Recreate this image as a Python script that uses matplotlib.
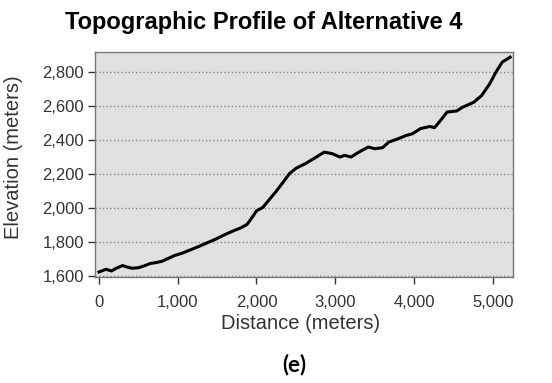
"""Topographic profile of alternative 4 (elevation vs distance)."""

import matplotlib.pyplot as plt
from matplotlib.ticker import FuncFormatter

# values
distance = [0, 40, 90, 160, 210, 300, 350, 420, 500, 580,
            650, 720, 800, 880, 960, 1050, 1160, 1260, 1370, 1480,
            1580, 1680, 1800, 1880, 1950, 2000, 2080, 2160, 2250, 2340,
            2420, 2500, 2620, 2760, 2860, 2960, 3060, 3120, 3200, 3300,
            3420, 3500, 3600, 3680, 3800, 3900, 3980, 4080, 4200, 4260,
            4320, 4420, 4540, 4620, 4760, 4860, 4960, 5040, 5120, 5220]
elevation = [1625, 1632, 1641, 1631, 1645, 1663, 1655, 1647, 1650, 1662,
             1675, 1680, 1688, 1705, 1722, 1735, 1755, 1774, 1796, 1818,
             1841, 1862, 1885, 1905, 1950, 1985, 2005, 2050, 2100, 2155,
             2205, 2235, 2263, 2302, 2331, 2322, 2302, 2312, 2302, 2331,
             2361, 2351, 2357, 2390, 2410, 2429, 2439, 2469, 2482, 2475,
             2508, 2567, 2573, 2596, 2625, 2665, 2733, 2802, 2861, 2890]
x_ticks = [0, 1000, 2000, 3000, 4000, 5000]
y_ticks = [1600, 1800, 2000, 2200, 2400, 2600, 2800]

plt.rcParams["font.family"] = ["Liberation Sans", "DejaVu Sans"]

fig = plt.figure(figsize=(5.52, 3.83), dpi=100)
ax = fig.add_axes([0.172, 0.277, 0.757, 0.587])
ax.set_facecolor("#e0e0e0")

ax.plot(distance, elevation, color="black", linewidth=2.2)

ax.set_xlim(-51, 5254)
ax.set_ylim(1596, 2920)
ax.set_xticks(x_ticks)
ax.set_yticks(y_ticks)
comma = FuncFormatter(lambda v, pos: f"{int(v):,}")
ax.xaxis.set_major_formatter(comma)
ax.yaxis.set_major_formatter(comma)
ax.tick_params(direction="out", length=5, width=1, colors="#333333",
               labelsize=12)
ax.tick_params(axis="x", pad=8)
ax.tick_params(axis="y", pad=3)
ax.grid(axis="y", linestyle=":", color="#888888", linewidth=1.0)

for side in ax.spines.values():
    side.set_color("#777777")
    side.set_linewidth(1.0)

ax.set_xlabel("Distance (meters)", fontsize=14.5, color="#333333")
ax.set_ylabel("Elevation (meters)", fontsize=14.5, color="#333333")
ax.xaxis.set_label_coords(0.493, -0.166)
ax.yaxis.set_label_coords(-0.172, 0.531)

fig.text(0.478, 0.94, "Topographic Profile of Alternative 4",
         ha="center", va="center", fontsize=17, fontweight="bold")
fig.text(0.534, 0.047, "(e)", ha="center", va="center", fontsize=16,
         fontweight="bold", family=["Lato", "DejaVu Sans"])

fig.savefig("out.png", dpi=100)
plt.close(fig)
